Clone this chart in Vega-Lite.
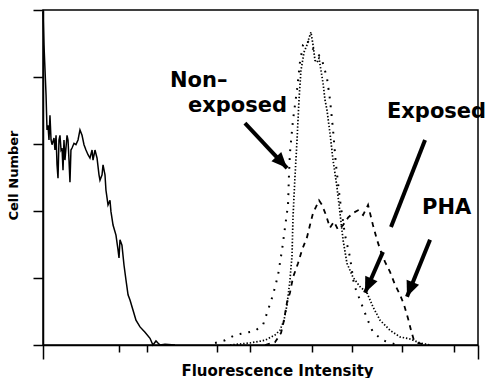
{
  "$schema": "https://vega.github.io/schema/vega-lite/v6.json",
  "width": 435,
  "height": 335,
  "autosize": {"type": "none"},
  "padding": {"left": 43, "top": 10, "right": 13, "bottom": 33},
  "background": "white",
  "config": {
    "view": {"stroke": "black", "strokeWidth": 1.5},
    "axis": {"domainColor": "black", "domainWidth": 1.5, "tickColor": "black", "tickWidth": 1.5, "labels": false, "grid": false,
      "titleFont": "DejaVu Sans", "titleFontWeight": "bold", "titleColor": "black"}
  },
  "datasets": {
    "curves": [
      {"series":"Control","logIntensity":0.000,"count":4.97},
      {"series":"Control","logIntensity":0.009,"count":4.48},
      {"series":"Control","logIntensity":0.028,"count":3.73},
      {"series":"Control","logIntensity":0.037,"count":3.21},
      {"series":"Control","logIntensity":0.046,"count":3.28},
      {"series":"Control","logIntensity":0.055,"count":3.06},
      {"series":"Control","logIntensity":0.064,"count":3.43},
      {"series":"Control","logIntensity":0.074,"count":3.06},
      {"series":"Control","logIntensity":0.083,"count":2.99},
      {"series":"Control","logIntensity":0.101,"count":3.09},
      {"series":"Control","logIntensity":0.110,"count":2.91},
      {"series":"Control","logIntensity":0.120,"count":3.13},
      {"series":"Control","logIntensity":0.129,"count":2.69},
      {"series":"Control","logIntensity":0.138,"count":2.49},
      {"series":"Control","logIntensity":0.147,"count":3.06},
      {"series":"Control","logIntensity":0.156,"count":3.13},
      {"series":"Control","logIntensity":0.166,"count":2.91},
      {"series":"Control","logIntensity":0.175,"count":2.94},
      {"series":"Control","logIntensity":0.184,"count":2.61},
      {"series":"Control","logIntensity":0.193,"count":3.06},
      {"series":"Control","logIntensity":0.202,"count":2.76},
      {"series":"Control","logIntensity":0.221,"count":3.13},
      {"series":"Control","logIntensity":0.230,"count":3.06},
      {"series":"Control","logIntensity":0.239,"count":2.76},
      {"series":"Control","logIntensity":0.248,"count":2.43},
      {"series":"Control","logIntensity":0.257,"count":2.91},
      {"series":"Control","logIntensity":0.267,"count":2.94},
      {"series":"Control","logIntensity":0.285,"count":3.01},
      {"series":"Control","logIntensity":0.303,"count":2.99},
      {"series":"Control","logIntensity":0.322,"count":3.06},
      {"series":"Control","logIntensity":0.340,"count":3.21},
      {"series":"Control","logIntensity":0.359,"count":3.13},
      {"series":"Control","logIntensity":0.377,"count":2.99},
      {"series":"Control","logIntensity":0.395,"count":2.91},
      {"series":"Control","logIntensity":0.414,"count":2.84},
      {"series":"Control","logIntensity":0.432,"count":2.79},
      {"series":"Control","logIntensity":0.451,"count":2.91},
      {"series":"Control","logIntensity":0.460,"count":2.76},
      {"series":"Control","logIntensity":0.478,"count":2.91},
      {"series":"Control","logIntensity":0.497,"count":2.79},
      {"series":"Control","logIntensity":0.515,"count":2.54},
      {"series":"Control","logIntensity":0.524,"count":2.46},
      {"series":"Control","logIntensity":0.543,"count":2.54},
      {"series":"Control","logIntensity":0.552,"count":2.69},
      {"series":"Control","logIntensity":0.570,"count":2.54},
      {"series":"Control","logIntensity":0.579,"count":2.31},
      {"series":"Control","logIntensity":0.598,"count":2.09},
      {"series":"Control","logIntensity":0.616,"count":2.16},
      {"series":"Control","logIntensity":0.625,"count":1.99},
      {"series":"Control","logIntensity":0.644,"count":1.79},
      {"series":"Control","logIntensity":0.671,"count":1.64},
      {"series":"Control","logIntensity":0.690,"count":1.42},
      {"series":"Control","logIntensity":0.699,"count":1.30},
      {"series":"Control","logIntensity":0.708,"count":1.57},
      {"series":"Control","logIntensity":0.726,"count":1.49},
      {"series":"Control","logIntensity":0.745,"count":1.19},
      {"series":"Control","logIntensity":0.763,"count":0.97},
      {"series":"Control","logIntensity":0.782,"count":0.75},
      {"series":"Control","logIntensity":0.800,"count":0.67},
      {"series":"Control","logIntensity":0.828,"count":0.52},
      {"series":"Control","logIntensity":0.855,"count":0.37},
      {"series":"Control","logIntensity":0.892,"count":0.27},
      {"series":"Control","logIntensity":0.938,"count":0.19},
      {"series":"Control","logIntensity":0.984,"count":0.10},
      {"series":"Control","logIntensity":1.011,"count":0.00},
      {"series":"Control","logIntensity":1.039,"count":0.06},
      {"series":"Control","logIntensity":1.057,"count":0.03},
      {"series":"Control","logIntensity":1.076,"count":0.00},
      {"series":"Control","logIntensity":1.122,"count":0.01},
      {"series":"Control","logIntensity":1.214,"count":0.00},

      {"series":"Exposed","logIntensity":1.720,"count":0.00},
      {"series":"Exposed","logIntensity":1.903,"count":0.03},
      {"series":"Exposed","logIntensity":2.041,"count":0.07},
      {"series":"Exposed","logIntensity":2.133,"count":0.15},
      {"series":"Exposed","logIntensity":2.179,"count":0.22},
      {"series":"Exposed","logIntensity":2.216,"count":0.37},
      {"series":"Exposed","logIntensity":2.244,"count":0.60},
      {"series":"Exposed","logIntensity":2.271,"count":0.97},
      {"series":"Exposed","logIntensity":2.290,"count":1.34},
      {"series":"Exposed","logIntensity":2.299,"count":1.91},
      {"series":"Exposed","logIntensity":2.317,"count":2.51},
      {"series":"Exposed","logIntensity":2.336,"count":3.06},
      {"series":"Exposed","logIntensity":2.354,"count":3.66},
      {"series":"Exposed","logIntensity":2.372,"count":4.10},
      {"series":"Exposed","logIntensity":2.400,"count":4.37},
      {"series":"Exposed","logIntensity":2.428,"count":4.48},
      {"series":"Exposed","logIntensity":2.446,"count":4.58},
      {"series":"Exposed","logIntensity":2.464,"count":4.67},
      {"series":"Exposed","logIntensity":2.483,"count":4.48},
      {"series":"Exposed","logIntensity":2.501,"count":4.25},
      {"series":"Exposed","logIntensity":2.520,"count":4.22},
      {"series":"Exposed","logIntensity":2.538,"count":4.28},
      {"series":"Exposed","logIntensity":2.556,"count":4.10},
      {"series":"Exposed","logIntensity":2.575,"count":3.91},
      {"series":"Exposed","logIntensity":2.593,"count":3.66},
      {"series":"Exposed","logIntensity":2.611,"count":3.51},
      {"series":"Exposed","logIntensity":2.639,"count":3.16},
      {"series":"Exposed","logIntensity":2.667,"count":2.76},
      {"series":"Exposed","logIntensity":2.703,"count":2.36},
      {"series":"Exposed","logIntensity":2.731,"count":1.97},
      {"series":"Exposed","logIntensity":2.759,"count":1.57},
      {"series":"Exposed","logIntensity":2.795,"count":1.22},
      {"series":"Exposed","logIntensity":2.851,"count":1.01},
      {"series":"Exposed","logIntensity":2.915,"count":0.87},
      {"series":"Exposed","logIntensity":2.979,"count":0.78},
      {"series":"Exposed","logIntensity":3.034,"count":0.57},
      {"series":"Exposed","logIntensity":3.099,"count":0.37},
      {"series":"Exposed","logIntensity":3.191,"count":0.22},
      {"series":"Exposed","logIntensity":3.283,"count":0.12},
      {"series":"Exposed","logIntensity":3.375,"count":0.09},
      {"series":"Exposed","logIntensity":3.467,"count":0.03},
      {"series":"Exposed","logIntensity":3.559,"count":0.00},

      {"series":"Non-exposed","logIntensity":1.582,"count":0.03},
      {"series":"Non-exposed","logIntensity":1.674,"count":0.07},
      {"series":"Non-exposed","logIntensity":1.766,"count":0.15},
      {"series":"Non-exposed","logIntensity":1.857,"count":0.18},
      {"series":"Non-exposed","logIntensity":1.949,"count":0.21},
      {"series":"Non-exposed","logIntensity":2.023,"count":0.30},
      {"series":"Non-exposed","logIntensity":2.069,"count":0.52},
      {"series":"Non-exposed","logIntensity":2.115,"count":0.75},
      {"series":"Non-exposed","logIntensity":2.161,"count":1.04},
      {"series":"Non-exposed","logIntensity":2.198,"count":1.42},
      {"series":"Non-exposed","logIntensity":2.225,"count":1.75},
      {"series":"Non-exposed","logIntensity":2.253,"count":2.09},
      {"series":"Non-exposed","logIntensity":2.262,"count":2.54},
      {"series":"Non-exposed","logIntensity":2.271,"count":2.87},
      {"series":"Non-exposed","logIntensity":2.299,"count":3.36},
      {"series":"Non-exposed","logIntensity":2.336,"count":3.81},
      {"series":"Non-exposed","logIntensity":2.363,"count":4.22},
      {"series":"Non-exposed","logIntensity":2.391,"count":4.48},
      {"series":"Non-exposed","logIntensity":2.428,"count":4.55},
      {"series":"Non-exposed","logIntensity":2.474,"count":4.43},
      {"series":"Non-exposed","logIntensity":2.520,"count":4.37},
      {"series":"Non-exposed","logIntensity":2.566,"count":4.25},
      {"series":"Non-exposed","logIntensity":2.611,"count":3.99},
      {"series":"Non-exposed","logIntensity":2.639,"count":3.66},
      {"series":"Non-exposed","logIntensity":2.667,"count":3.21},
      {"series":"Non-exposed","logIntensity":2.694,"count":2.69},
      {"series":"Non-exposed","logIntensity":2.731,"count":2.16},
      {"series":"Non-exposed","logIntensity":2.777,"count":1.64},
      {"series":"Non-exposed","logIntensity":2.823,"count":1.31},
      {"series":"Non-exposed","logIntensity":2.860,"count":0.90},
      {"series":"Non-exposed","logIntensity":2.915,"count":0.67},
      {"series":"Non-exposed","logIntensity":2.979,"count":0.40},
      {"series":"Non-exposed","logIntensity":3.034,"count":0.19},
      {"series":"Non-exposed","logIntensity":3.126,"count":0.07},
      {"series":"Non-exposed","logIntensity":3.237,"count":0.01},

      {"series":"PHA","logIntensity":2.041,"count":0.00},
      {"series":"PHA","logIntensity":2.133,"count":0.04},
      {"series":"PHA","logIntensity":2.189,"count":0.18},
      {"series":"PHA","logIntensity":2.216,"count":0.37},
      {"series":"PHA","logIntensity":2.244,"count":0.64},
      {"series":"PHA","logIntensity":2.271,"count":0.78},
      {"series":"PHA","logIntensity":2.299,"count":1.01},
      {"series":"PHA","logIntensity":2.345,"count":1.22},
      {"series":"PHA","logIntensity":2.382,"count":1.42},
      {"series":"PHA","logIntensity":2.428,"count":1.61},
      {"series":"PHA","logIntensity":2.455,"count":1.79},
      {"series":"PHA","logIntensity":2.483,"count":1.97},
      {"series":"PHA","logIntensity":2.510,"count":2.06},
      {"series":"PHA","logIntensity":2.538,"count":2.16},
      {"series":"PHA","logIntensity":2.566,"count":2.09},
      {"series":"PHA","logIntensity":2.602,"count":1.94},
      {"series":"PHA","logIntensity":2.639,"count":1.75},
      {"series":"PHA","logIntensity":2.676,"count":1.84},
      {"series":"PHA","logIntensity":2.713,"count":1.72},
      {"series":"PHA","logIntensity":2.759,"count":1.79},
      {"series":"PHA","logIntensity":2.805,"count":1.90},
      {"series":"PHA","logIntensity":2.851,"count":1.97},
      {"series":"PHA","logIntensity":2.897,"count":2.01},
      {"series":"PHA","logIntensity":2.943,"count":1.94},
      {"series":"PHA","logIntensity":2.989,"count":2.09},
      {"series":"PHA","logIntensity":3.034,"count":1.79},
      {"series":"PHA","logIntensity":3.071,"count":1.57},
      {"series":"PHA","logIntensity":3.108,"count":1.39},
      {"series":"PHA","logIntensity":3.145,"count":1.24},
      {"series":"PHA","logIntensity":3.191,"count":1.09},
      {"series":"PHA","logIntensity":3.237,"count":0.90},
      {"series":"PHA","logIntensity":3.283,"count":0.75},
      {"series":"PHA","logIntensity":3.320,"count":0.60},
      {"series":"PHA","logIntensity":3.356,"count":0.40},
      {"series":"PHA","logIntensity":3.384,"count":0.22},
      {"series":"PHA","logIntensity":3.411,"count":0.07},
      {"series":"PHA","logIntensity":3.448,"count":0.03},
      {"series":"PHA","logIntensity":3.513,"count":0.00}
    ],
    "labels": [
      {"text":"Non–","logIntensity":1.168,"count":3.85},
      {"text":"exposed","logIntensity":1.333,"count":3.48},
      {"text":"Exposed","logIntensity":3.163,"count":3.39},
      {"text":"PHA","logIntensity":3.485,"count":1.96}
    ],
    "arrows": [
      {"arrow":"Non-exposed","x1":1.857,"y1":3.31,"x2":2.244,"y2":2.64},
      {"arrow":"Exposed line","x1":3.513,"y1":3.06,"x2":3.200,"y2":1.76},
      {"arrow":"Exposed","x1":3.126,"y1":1.39,"x2":2.961,"y2":0.78},
      {"arrow":"PHA","x1":3.559,"y1":1.57,"x2":3.347,"y2":0.72}
    ]
  },
  "layer": [
    {
      "data": {"name": "curves"},
      "transform": [{"filter": "datum.series === 'Control'"}],
      "mark": {"type": "line", "color": "black", "strokeWidth": 1.5, "interpolate": "linear"},
      "encoding": {
        "x": {"field": "logIntensity", "type": "quantitative",
          "scale": {"domain": [0, 4], "nice": false, "zero": false},
          "axis": {"orient": "bottom", "title": "Fluorescence Intensity", "titleFontSize": 15,
            "titleX": 234, "titleY": 30, "titleBaseline": "alphabetic",
            "values": [0,0.30103,0.47712,0.60206,0.69897,0.77815,0.84510,0.90309,0.95424,
                       1,1.30103,1.47712,1.60206,1.69897,1.77815,1.84510,1.90309,1.95424,
                       2,2.30103,2.47712,2.60206,2.69897,2.77815,2.84510,2.90309,2.95424,
                       3,3.30103,3.47712,3.60206,3.69897,3.77815,3.84510,3.90309,3.95424,4],
            "tickSize": {"condition": {"test": "datum.value % 1 === 0", "value": 14}, "value": 7}}},
        "y": {"field": "count", "type": "quantitative",
          "scale": {"domain": [0, 5], "nice": false},
          "axis": {"title": "Cell Number", "titleFontSize": 13, "values": [0,1,2,3,4,5], "tickSize": 10,
            "titleX": -26, "titleY": 165, "titleBaseline": "alphabetic"}}
      }
    },
    {
      "data": {"name": "curves"},
      "transform": [{"filter": "datum.series === 'Exposed'"}],
      "mark": {"type": "line", "color": "black", "strokeWidth": 1.7, "strokeDash": [1.4, 1.9]},
      "encoding": {
        "x": {"field": "logIntensity", "type": "quantitative"},
        "y": {"field": "count", "type": "quantitative"}
      }
    },
    {
      "data": {"name": "curves"},
      "transform": [{"filter": "datum.series === 'Non-exposed'"}],
      "mark": {"type": "line", "color": "black", "strokeWidth": 2, "strokeDash": [1.8, 7]},
      "encoding": {
        "x": {"field": "logIntensity", "type": "quantitative"},
        "y": {"field": "count", "type": "quantitative"}
      }
    },
    {
      "data": {"name": "curves"},
      "transform": [{"filter": "datum.series === 'PHA'"}],
      "mark": {"type": "line", "color": "black", "strokeWidth": 1.8, "strokeDash": [5, 5]},
      "encoding": {
        "x": {"field": "logIntensity", "type": "quantitative"},
        "y": {"field": "count", "type": "quantitative"}
      }
    },
    {
      "data": {"name": "labels"},
      "mark": {"type": "text", "align": "left", "baseline": "alphabetic", "font": "DejaVu Sans", "fontWeight": "bold", "fontSize": 21, "color": "black"},
      "encoding": {
        "x": {"field": "logIntensity", "type": "quantitative"},
        "y": {"field": "count", "type": "quantitative"},
        "text": {"field": "text"}
      }
    },
    {
      "data": {"name": "arrows"},
      "mark": {"type": "rule", "color": "black", "strokeWidth": 4},
      "encoding": {
        "x": {"field": "x1", "type": "quantitative"},
        "y": {"field": "y1", "type": "quantitative"},
        "x2": {"field": "x2"},
        "y2": {"field": "y2"}
      }
    },
    {
      "data": {"name": "arrows"},
      "transform": [{"filter": "datum.arrow === 'Non-exposed'"}],
      "mark": {"type": "point", "shape": "M0,0L-0.6,1.4L0.6,1.4Z", "filled": true, "color": "black", "opacity": 1, "size": 500, "angle": 137},
      "encoding": {
        "x": {"field": "x2", "type": "quantitative"},
        "y": {"field": "y2", "type": "quantitative"}
      }
    },
    {
      "data": {"name": "arrows"},
      "transform": [{"filter": "datum.arrow === 'Exposed'"}],
      "mark": {"type": "point", "shape": "M0,0L-0.6,1.4L0.6,1.4Z", "filled": true, "color": "black", "opacity": 1, "size": 500, "angle": 204},
      "encoding": {
        "x": {"field": "x2", "type": "quantitative"},
        "y": {"field": "y2", "type": "quantitative"}
      }
    },
    {
      "data": {"name": "arrows"},
      "transform": [{"filter": "datum.arrow === 'PHA'"}],
      "mark": {"type": "point", "shape": "M0,0L-0.6,1.4L0.6,1.4Z", "filled": true, "color": "black", "opacity": 1, "size": 500, "angle": 202},
      "encoding": {
        "x": {"field": "x2", "type": "quantitative"},
        "y": {"field": "y2", "type": "quantitative"}
      }
    }
  ]
}
